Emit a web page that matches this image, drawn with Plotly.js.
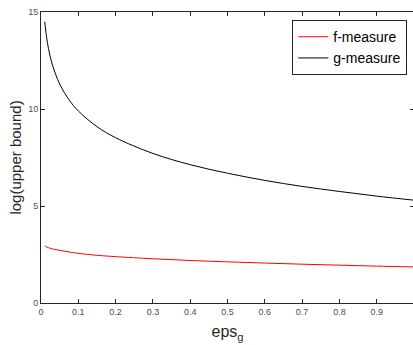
<!DOCTYPE html>
<html>
<head>
<meta charset="utf-8">
<script src="https://cdn.plot.ly/plotly-3.0.1.min.js"></script>
<style>html,body{margin:0;padding:0;overflow:hidden;background:#fff;}</style>
</head>
<body>
<div id="chart" style="width:414px;height:345px;"></div>
<script>
const eps = [0.01, 0.015, 0.02, 0.03, 0.05, 0.075, 0.1, 0.15, 0.2, 0.3, 0.4, 0.5, 0.6, 0.7, 0.8, 0.9, 1.0];
const fMeasure = [2.95, 2.89, 2.85, 2.79, 2.72, 2.63, 2.56, 2.46, 2.39, 2.28, 2.19, 2.12, 2.06, 2.00, 1.95, 1.90, 1.86];
const gMeasure = [14.5, 13.7, 13.12, 12.31, 11.29, 10.48, 9.9, 9.09, 8.52, 7.71, 7.13, 6.69, 6.32, 6.01, 5.75, 5.51, 5.3];
const xTickVals = [0, 0.1, 0.2, 0.3, 0.4, 0.5, 0.6, 0.7, 0.8, 0.9, 1];
const xTickText = ['0', '0.1', '0.2', '0.3', '0.4', '0.5', '0.6', '0.7', '0.8', '0.9', '1'];
const yTickVals = [0, 5, 10, 15];

const traces = [
  {x: eps, y: fMeasure, name: 'f-measure', mode: 'lines', line: {color: '#ff0000', width: 1, shape: 'spline'}},
  {x: eps, y: gMeasure, name: 'g-measure', mode: 'lines', line: {color: '#000000', width: 1, shape: 'spline'}}
];

const axisCommon = {
  showline: true, linecolor: '#262626', linewidth: 1, mirror: 'ticks',
  ticks: 'inside', ticklen: 4, tickcolor: '#262626', tickwidth: 1,
  showgrid: false, zeroline: false,
  tickfont: {family: 'Liberation Sans, Arial, sans-serif', size: 9, color: '#4d4d4d'}
};

const layout = {
  width: 414, height: 345,
  margin: {l: 41, r: 0, t: 12, b: 42, pad: 0},
  paper_bgcolor: '#fff', plot_bgcolor: '#fff',
  showlegend: true,
  legend: {
    x: 0.982, xanchor: 'right', y: 0.972, yanchor: 'top',
    bordercolor: '#262626', borderwidth: 1, bgcolor: '#fff',
    font: {family: 'Liberation Sans, Arial, sans-serif', size: 14, color: '#000'},
    itemwidth: 30, tracegroupgap: 0
  },
  xaxis: Object.assign({}, axisCommon, {
    range: [0, 1], tickvals: xTickVals, ticktext: xTickText,
    title: {text: 'eps<sub>g</sub>', font: {family: 'Liberation Sans, Arial, sans-serif', size: 16, color: '#262626'}, standoff: 10}
  }),
  yaxis: Object.assign({}, axisCommon, {
    range: [0, 15], tickvals: yTickVals,
    title: {text: 'log(upper bound)', font: {family: 'Liberation Sans, Arial, sans-serif', size: 15, color: '#262626'}, standoff: 2}
  })
};

Plotly.newPlot('chart', traces, layout, {displayModeBar: false, staticPlot: true});
</script>
</body>
</html>
